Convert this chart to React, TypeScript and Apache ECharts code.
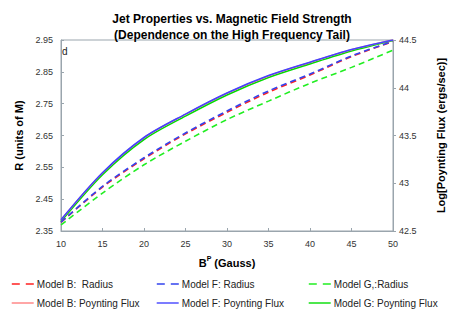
import React, { useEffect, useRef } from "react";
import * as echarts from "echarts";

const xValues = [10, 15, 20, 25, 30, 35, 40, 45, 50];
const radiusB = [2.377, 2.488, 2.577, 2.655, 2.723, 2.786, 2.840, 2.898, 2.945];
const radiusF = [2.378, 2.490, 2.580, 2.658, 2.727, 2.790, 2.843, 2.900, 2.946];
const radiusG = [2.369, 2.469, 2.558, 2.632, 2.700, 2.758, 2.814, 2.864, 2.918];
const fluxB = [42.616, 43.107, 43.476, 43.721, 43.942, 44.124, 44.265, 44.398, 44.5];
const fluxF = [42.618, 43.11, 43.479, 43.724, 43.945, 44.127, 44.268, 44.4, 44.5];
const fluxG = [42.6, 43.09, 43.458, 43.703, 43.925, 44.108, 44.25, 44.385, 44.495];
const leftTicks = [2.35, 2.95, 0.1];
const rightTicks = [42.5, 44.5, 0.5];
const xTicks = [10, 50, 5];

const pairs = (ys: number[]) => xValues.map((x, i) => [x, ys[i]]);

export default function App() {
  const ref = useRef<HTMLDivElement>(null);
  useEffect(() => {
    if (!ref.current) return;
    document.body.style.margin = "0";
    const chart = echarts.init(ref.current, undefined, { renderer: "svg" });
    const font = "Liberation Sans, Arial, sans-serif";
    const axisColor = "#9aa5ad";
    const dashed = (name: string, color: string, data: number[], z: number) => ({
      name,
      type: "line",
      yAxisIndex: 0,
      data: pairs(data),
      smooth: 0.3,
      symbol: "none",
      showSymbol: false,
      z,
      lineStyle: { color, width: 1.6, type: [6, 4] },
      itemStyle: { color },
    });
    const solid = (name: string, color: string, data: number[], z: number) => ({
      name,
      type: "line",
      yAxisIndex: 1,
      data: pairs(data),
      smooth: 0.3,
      symbol: "none",
      showSymbol: false,
      z,
      lineStyle: { color, width: 1.6 },
      itemStyle: { color },
    });
    const legendItem = (name: string, left: number, top: number, isDashed: boolean) => ({
      left,
      top,
      itemWidth: 22,
      itemHeight: 8,
      padding: 0,
      itemStyle: { opacity: 0 },
      lineStyle: isDashed ? { type: [8, 6], width: 1.6 } : { width: 1.4 },
      textStyle: { fontFamily: font, fontSize: 10, color: "#222", padding: [0, 0, 0, -2] },
      data: [name],
    });
    chart.setOption({
      animation: false,
      title: {
        text: "Jet Properties vs. Magnetic Field Strength\n(Dependence on the High Frequency Tail)",
        left: 227,
        textAlign: "center",
        top: 6,
        textStyle: { fontFamily: font, fontSize: 12, fontWeight: "bold", color: "#000", lineHeight: 16 },
      },
      grid: { left: 61, right: 64, top: 40, bottom: 82, show: true, borderColor: axisColor, borderWidth: 1 },
      xAxis: {
        type: "value",
        min: xTicks[0],
        max: xTicks[1],
        interval: xTicks[2],
        name: "{b|B}{sup|P}{b| (Gauss)}",
        nameLocation: "middle",
        nameGap: 24,
        nameTextStyle: {
          rich: {
            b: { fontFamily: font, fontSize: 11, fontWeight: "bold", color: "#000" },
            sup: { fontFamily: font, fontSize: 7, fontWeight: "bold", color: "#000", verticalAlign: "top", padding: [0, 0, 8, 0] },
          },
        },
        axisLine: { lineStyle: { color: axisColor } },
        axisTick: { inside: true, length: 3, lineStyle: { color: axisColor } },
        axisLabel: { fontFamily: font, fontSize: 9, color: "#333", margin: 8 },
        splitLine: { show: false },
      },
      yAxis: [
        {
          type: "value",
          min: leftTicks[0],
          max: leftTicks[1],
          interval: leftTicks[2],
          name: "R (units of M)",
          nameLocation: "middle",
          nameGap: 36,
          nameTextStyle: { fontFamily: font, fontSize: 11, fontWeight: "bold", color: "#000" },
          axisLine: { show: true, lineStyle: { color: axisColor } },
          axisTick: { show: true, inside: true, length: 3, lineStyle: { color: axisColor } },
          axisLabel: { fontFamily: font, fontSize: 9, color: "#333", margin: 8, formatter: (v: number) => v.toFixed(2) },
          splitLine: { show: false },
        },
        {
          type: "value",
          position: "right",
          min: rightTicks[0],
          max: rightTicks[1],
          interval: rightTicks[2],
          name: "Log[Poynting Flux (ergs/sec)]",
          nameLocation: "middle",
          nameGap: 42,
          nameRotate: 90,
          nameTextStyle: { fontFamily: font, fontSize: 11, fontWeight: "bold", color: "#000" },
          axisLine: { show: true, lineStyle: { color: axisColor } },
          axisTick: { show: true, length: 3, lineStyle: { color: axisColor } },
          axisLabel: { fontFamily: font, fontSize: 9, color: "#333", margin: 6 },
          splitLine: { show: false },
        },
      ],
      legend: [
        legendItem("Model B:  Radius", 11, 279, true),
        legendItem("Model F: Radius", 156, 279, true),
        legendItem("Model G,:Radius", 308, 279, true),
        legendItem("Model B: Poynting Flux", 11, 298, false),
        legendItem("Model F: Poynting Flux", 156, 298, false),
        legendItem("Model G: Poynting Flux", 308, 298, false),
      ],
      graphic: [
        { type: "text", left: 62, top: 46, style: { text: "d", fontFamily: font, fontSize: 10, fill: "#222" } },
      ],
      series: [
        solid("Model G: Poynting Flux", "#00dd00", fluxG, 2),
        solid("Model B: Poynting Flux", "#ff8080", fluxB, 3),
        solid("Model F: Poynting Flux", "#4444ff", fluxF, 4),
        dashed("Model G,:Radius", "#22ee22", radiusG, 2),
        dashed("Model B:  Radius", "#ff2020", radiusB, 3),
        dashed("Model F: Radius", "#3344ee", radiusF, 4),
      ],
    });
    return () => chart.dispose();
  }, []);
  return <div ref={ref} style={{ width: 457, height: 313 }} />;
}
